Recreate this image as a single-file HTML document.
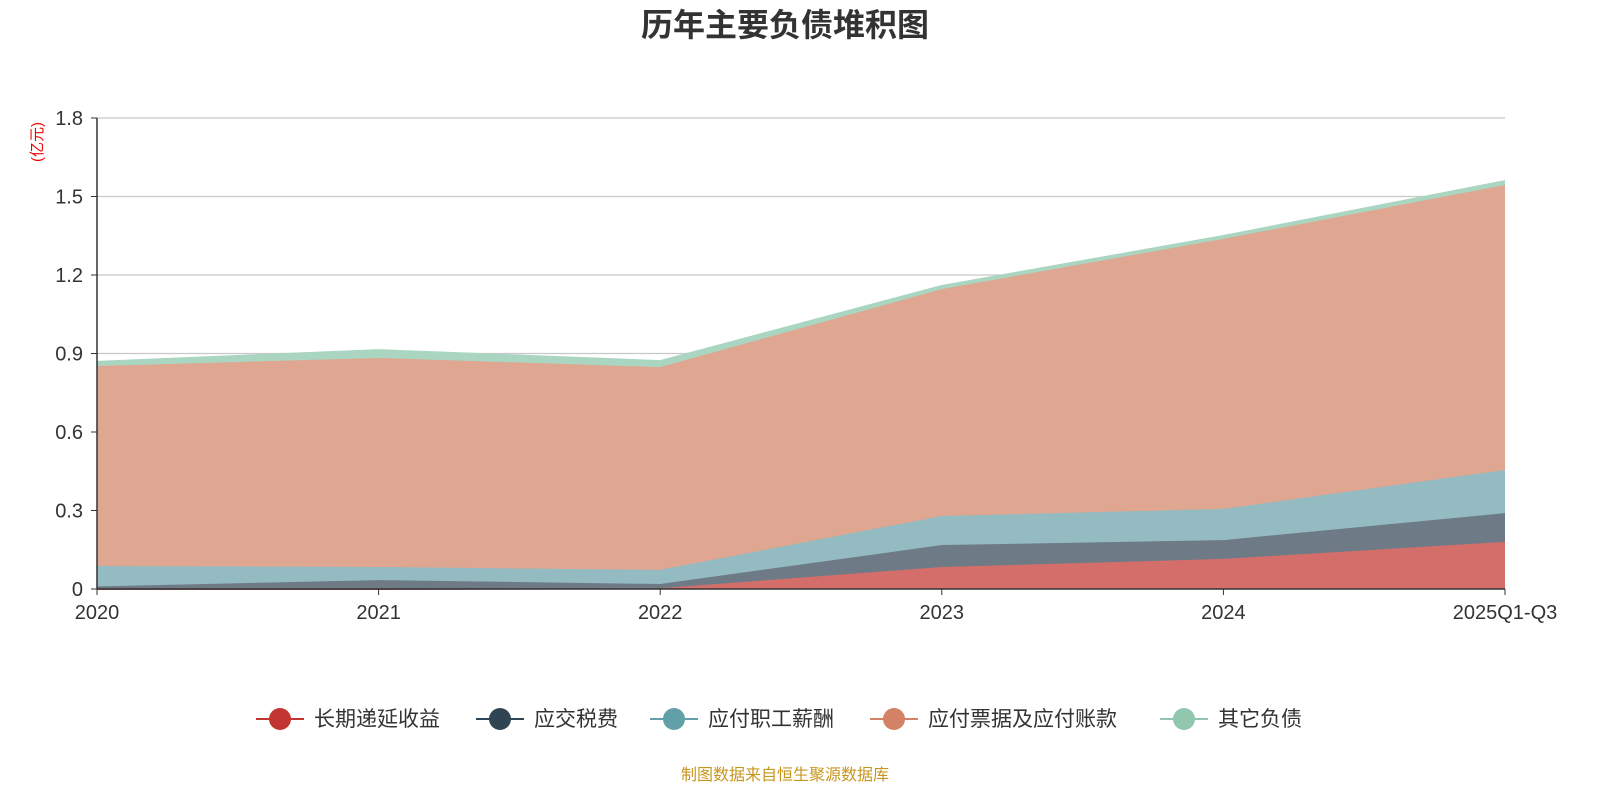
<!DOCTYPE html>
<html><head><meta charset="utf-8"><style>
body{margin:0;background:#fff;width:1600px;height:800px;overflow:hidden;font-family:"Liberation Sans","Noto Sans CJK SC",sans-serif}
</style></head><body>
<svg id="c" width="1600" height="800" xmlns="http://www.w3.org/2000/svg">
<text x="785" y="36" text-anchor="middle" font-size="32" font-weight="bold" fill="#333" font-family="Liberation Sans,Noto Sans CJK SC,sans-serif">历年主要负债堆积图</text>
<text transform="translate(42,142) rotate(-90)" text-anchor="middle" font-size="15" fill="#e00" font-family="Liberation Sans,Noto Sans CJK SC,sans-serif">(亿元)</text>
<g id="grid"></g><g id="areas"></g><g id="axes"></g><g id="legend"></g>
<text x="785" y="780" text-anchor="middle" font-size="16" fill="#c8961e" font-family="Liberation Sans,Noto Sans CJK SC,sans-serif">制图数据来自恒生聚源数据库</text>
</svg>
<script>
const categories=["2020","2021","2022","2023","2024","2025Q1-Q3"];
const seriesNames=["长期递延收益","应交税费","应付职工薪酬","应付票据及应付账款","其它负债"];
const longTerm=[0,0,0.003,0.084,0.115,0.18];
const taxes=[0.01,0.034,0.016,0.084,0.072,0.11];
const payroll=[0.078,0.05,0.054,0.111,0.119,0.165];
const payables=[0.764,0.799,0.775,0.867,1.032,1.089];
const others=[0.016,0.03,0.023,0.012,0.011,0.015];
const yTicks=[0,0.3,0.6,0.9,1.2,1.5,1.8];
const yTickLabels=["0","0.3","0.6","0.9","1.2","1.5","1.8"];
const colors=["#c23531","#2f4554","#61a0a8","#d48265","#91c7ae"];
const fills=["#d46e6b","#6e7b86","#93bbc1","#dfa791","#a9d5c1"];
const NS="http://www.w3.org/2000/svg";
const X0=97,X1=1505,Y0=589,Y1=118;
const xs=i=>X0+(X1-X0)*i/(categories.length-1);
const ys=v=>Y0-(Y0-Y1)*v/1.8;
function mk(t,a,p){const e=document.createElementNS(NS,t);for(const k in a)e.setAttribute(k,a[k]);p.appendChild(e);return e;}
const grid=document.getElementById('grid'),axes=document.getElementById('axes'),areas=document.getElementById('areas'),leg=document.getElementById('legend');
yTicks.forEach((v,i)=>{
 if(v>0){const g=mk('line',{x1:X0,x2:X1,y1:ys(v),y2:ys(v),stroke:'#c8c8c8','stroke-width':1.3},grid);
 
 }
 const t=mk('text',{x:X0-14,y:ys(v)+7,'text-anchor':'end','font-size':20,fill:'#333'},axes);t.textContent=yTickLabels[i];
 
 
 mk('line',{x1:X0-6,x2:X0,y1:ys(v),y2:ys(v),stroke:'#333'},axes);
});
const data=[longTerm,taxes,payroll,payables,others];
let base=categories.map(()=>0);
data.forEach((s,k)=>{
 const top=base.map((b,i)=>b+s[i]);
 let d='M'+top.map((v,i)=>xs(i)+','+ys(v)).join('L');
 for(let i=categories.length-1;i>=0;i--)d+='L'+xs(i)+','+ys(base[i]);
 const p=mk('path',{d:d+'Z',fill:fills[k],stroke:'none'},areas);
 
 
 const l=mk('polyline',{points:top.map((v,i)=>xs(i)+','+ys(v)).join(' '),fill:'none',stroke:fills[k],'stroke-width':2},areas);
 
 
 base=top;
});
mk('line',{x1:X0,x2:X0,y1:Y1,y2:Y0,stroke:'#333','stroke-width':1.5},axes);
mk('line',{x1:X0,x2:X1,y1:Y0,y2:Y0,stroke:'#333','stroke-width':1.5},axes);
categories.forEach((c,i)=>{
 mk('line',{x1:xs(i),x2:xs(i),y1:Y0,y2:Y0+6,stroke:'#333'},axes);
 const t=mk('text',{x:xs(i),y:619,'text-anchor':'middle','font-size':20,fill:'#333'},axes);t.textContent=c;
 
 
});
const lx=[256,476,650,870,1160];
seriesNames.forEach((n,k)=>{
 const g=mk('g',{},leg);
 
 
 mk('line',{x1:lx[k],x2:lx[k]+48,y1:719,y2:719,stroke:colors[k],'stroke-width':2},g);
 mk('circle',{cx:lx[k]+24,cy:719,r:11,fill:colors[k]},g);
 const t=mk('text',{x:lx[k]+58,y:726,'font-size':21,fill:'#333'},g);t.textContent=n;
});
</script>
</body></html>
